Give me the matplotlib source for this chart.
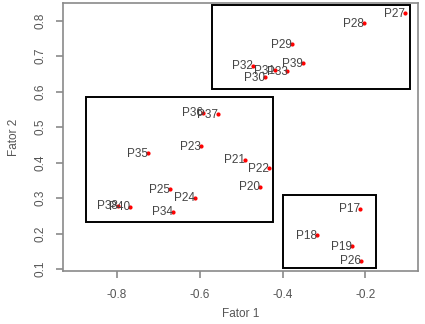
import matplotlib
matplotlib.use("Agg")
import matplotlib.pyplot as plt
from matplotlib.patches import Rectangle

plt.rcParams["font.family"] = ["Liberation Sans", "DejaVu Sans"]

# factor scores
names = ["P27", "P28", "P29", "P39", "P32", "P30", "P31", "P33",
         "P36", "P37", "P23", "P35", "P21", "P22", "P20", "P25", "P24", "P34",
         "P38", "P40",
         "P17", "P18", "P19", "P26"]
fator1 = [-0.105, -0.204, -0.378, -0.351, -0.472, -0.442, -0.419, -0.388,
          -0.592, -0.555, -0.598, -0.725, -0.491, -0.433, -0.455, -0.672, -0.612, -0.664,
          -0.798, -0.769,
          -0.212, -0.317, -0.232, -0.211]
fator2 = [0.821, 0.793, 0.733, 0.680, 0.673, 0.641, 0.661, 0.658,
          0.541, 0.537, 0.447, 0.426, 0.408, 0.384, 0.332, 0.326, 0.301, 0.262,
          0.279, 0.276,
          0.270, 0.196, 0.165, 0.124]

# groups drawn as boxes: (x0, x1, y0, y1)
groups = [(-0.570, -0.091, 0.607, 0.844),
          (-0.874, -0.422, 0.234, 0.586),
          (-0.398, -0.174, 0.104, 0.309)]

grey = "#8a8a8a"
txt = "#555555"

fig = plt.figure(figsize=(4.25, 3.24), dpi=100)
ax = fig.add_axes([0.148, 0.164, 0.836, 0.827])

ax.scatter(fator1, fator2, s=4, color="red", zorder=3)
for n, x, y in zip(names, fator1, fator2):
    ax.annotate(n, (x, y), xytext=(0, -0.5), textcoords="offset points",
                ha="right", va="center", fontsize=8.5, color="#444444")

for x0, x1, y0, y1 in groups:
    ax.add_patch(Rectangle((x0, y0), x1 - x0, y1 - y0, fill=False,
                           edgecolor="black", linewidth=1.4))

ax.set_xlim(-0.931, -0.072)
ax.set_ylim(0.095, 0.85)
ax.set_xticks([-0.8, -0.6, -0.4, -0.2])
ax.set_yticks([0.1, 0.2, 0.3, 0.4, 0.5, 0.6, 0.7, 0.8])
ax.set_xticklabels(["-0.8", "-0.6", "-0.4", "-0.2"])
ax.set_yticklabels(["0.1", "0.2", "0.3", "0.4", "0.5", "0.6", "0.7", "0.8"],
                   rotation=90, va="center")
for s in ax.spines.values():
    s.set_color(grey)
    s.set_linewidth(1.2)
ax.tick_params(colors=grey, labelcolor=txt, labelsize=8.5, length=5, width=1.2)
ax.tick_params(axis="x", pad=8)
ax.tick_params(axis="y", pad=7)

ax.set_xlabel("Fator 1", fontsize=8.5, color=txt, labelpad=5)
ax.set_ylabel("Fator 2", fontsize=8.5, color=txt, labelpad=10)

fig.savefig("out.png", dpi=100)
